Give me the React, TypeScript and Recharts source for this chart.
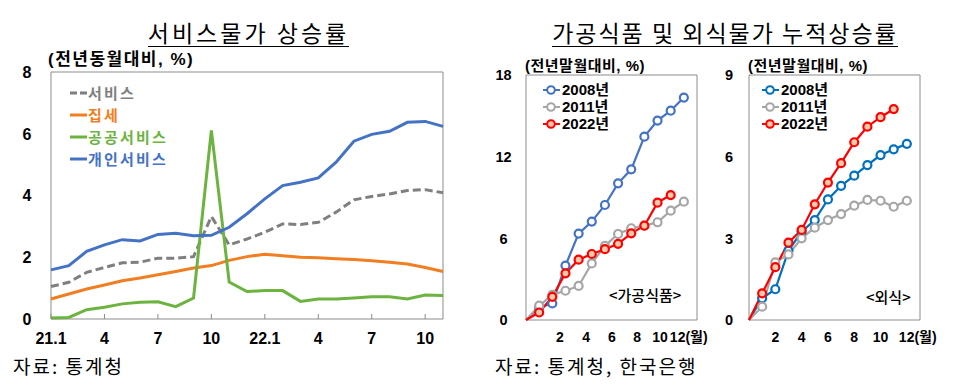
import React from "react";
import { LineChart, Line, XAxis, YAxis, ReferenceArea, Legend } from "recharts";

const NUM_FONT = '"Liberation Sans", Arial, "Noto Sans CJK KR", sans-serif';
const KR_FONT = '"Noto Sans CJK KR", "Noto Sans", sans-serif';

// 서비스물가 상승률 (전년동월대비, %), 21.1 ~ 22.11
const months = [
  "21.1", "2", "3", "4", "5", "6", "7", "8", "9", "10", "11", "12",
  "22.1", "2", "3", "4", "5", "6", "7", "8", "9", "10", "11",
];
const service = [1.05, 1.19, 1.51, 1.67, 1.82, 1.84, 1.97, 1.97, 2.02, 3.32, 2.4, 2.59, 2.81, 3.08, 3.06, 3.13, 3.46, 3.86, 3.97, 4.05, 4.16, 4.19, 4.09];
const rent = [0.65, 0.81, 0.97, 1.1, 1.24, 1.33, 1.43, 1.54, 1.65, 1.73, 1.9, 2.02, 2.1, 2.05, 2.0, 1.98, 1.95, 1.93, 1.89, 1.84, 1.78, 1.67, 1.54];
const publicSvc = [0.03, 0.05, 0.3, 0.38, 0.49, 0.54, 0.56, 0.4, 0.68, 6.11, 1.2, 0.89, 0.92, 0.92, 0.57, 0.65, 0.65, 0.68, 0.72, 0.72, 0.65, 0.78, 0.76];
const personal = [1.59, 1.73, 2.19, 2.4, 2.57, 2.53, 2.74, 2.78, 2.7, 2.71, 2.97, 3.41, 3.89, 4.32, 4.43, 4.57, 5.08, 5.76, 5.98, 6.08, 6.37, 6.4, 6.24];
const svcTicks = [0, 3, 6, 9, 12, 15, 18, 21];

// 누적상승률 (전년말월대비, %), 0 ~ 12월
const cumMonths = [0, 1, 2, 3, 4, 5, 6, 7, 8, 9, 10, 11, 12];
const proc2008 = [0, 0.9, 1.22, 4.0, 6.35, 7.23, 8.45, 10.04, 11.07, 13.47, 14.65, 15.38, 16.34];
const proc2011 = [0, 1.05, 1.85, 2.15, 2.5, 4.16, 5.45, 6.32, 6.74, 6.93, 7.18, 8.03, 8.69];
const proc2022 = [0, 0.55, 1.7, 3.43, 4.43, 4.85, 5.2, 5.6, 6.37, 6.93, 8.62, 9.18, null];
const food2008 = [0, 0.8, 1.13, 2.55, 3.24, 3.67, 4.43, 4.93, 5.3, 5.69, 6.06, 6.27, 6.47];
const food2011 = [0, 0.49, 2.12, 2.41, 3.0, 3.39, 3.67, 3.89, 4.2, 4.41, 4.38, 4.16, 4.38];
const food2022 = [0, 0.98, 1.94, 2.84, 3.31, 4.25, 5.05, 5.76, 6.53, 7.1, 7.45, 7.75, null];
const monthTicks = [2, 4, 6, 8, 10, 12];

const svcData = months.map((m, i) => ({
  i,
  m,
  service: service[i],
  rent: rent[i],
  pub: publicSvc[i],
  personal: personal[i],
}));
const procData = cumMonths.map((k, i) => ({ k, y2008: proc2008[i], y2011: proc2011[i], y2022: proc2022[i] }));
const foodData = cumMonths.map((k, i) => ({ k, y2008: food2008[i], y2011: food2011[i], y2022: food2022[i] }));

const svcSeries = [
  { key: "service", name: "서비스", color: "#7F7F7F", dash: "8 4" },
  { key: "rent", name: "집세", color: "#F27E22" },
  { key: "pub", name: "공공서비스", color: "#6CB33F" },
  { key: "personal", name: "개인서비스", color: "#4472C4" },
];

type Yr = { key: string; name: string; color: string; fill: string };
const procSeries: Yr[] = [
  { key: "y2008", name: "2008년", color: "#4472C4", fill: "#fff" },
  { key: "y2011", name: "2011년", color: "#A6A6A6", fill: "#fff" },
  { key: "y2022", name: "2022년", color: "#FF0000", fill: "#F8CBAD" },
];
const foodSeries: Yr[] = [
  { key: "y2008", name: "2008년", color: "#0070C0", fill: "#fff" },
  { key: "y2011", name: "2011년", color: "#A6A6A6", fill: "#fff" },
  { key: "y2022", name: "2022년", color: "#FF0000", fill: "#F8CBAD" },
];

const BOX = "#8c8c8c";

function YTick(props: any) {
  const { x, y, payload, off, size } = props;
  return (
    <text x={x - off} y={y} dy={size * 0.36} textAnchor="middle" fontSize={size} fontWeight="bold" fontFamily={NUM_FONT} fill="#000">
      {payload.value}
    </text>
  );
}

function SvcXTick(props: any) {
  const { x, y, payload } = props;
  return (
    <text x={x} y={y} dy={24.5} textAnchor="middle" fontSize={16} fontWeight="bold" fontFamily={NUM_FONT} fill="#000">
      {months[payload.value]}
    </text>
  );
}

function MonthTick(props: any) {
  const { x, y, payload, shift } = props;
  const v = payload.value;
  const s = shift ? shift[v] ?? 0 : 0;
  if (v === 12) {
    return (
      <text x={x + s - 8} y={y} dy={21.5} textAnchor="start" fontSize={14} fontWeight="bold" fontFamily={NUM_FONT} fill="#000">
        12(월)
      </text>
    );
  }
  return (
    <text x={x + s} y={y} dy={21.5} textAnchor="middle" fontSize={14} fontWeight="bold" fontFamily={NUM_FONT} fill="#000">
      {v}
    </text>
  );
}

const makeDot = (s: Yr) => (p: any) => {
  const { cx, cy, index } = p;
  if (index === 0 || cx == null || cy == null || p.value == null) return <g key={`d-${s.key}-${index}`} />;
  return <circle key={`d-${s.key}-${index}`} cx={cx} cy={cy} r={4} fill={s.fill} stroke={s.color} strokeWidth={2.2} />;
};

function SvcLegend() {
  return (
    <div style={{ fontFamily: KR_FONT, fontWeight: 700, fontSize: 15, letterSpacing: 2.2 }}>
      {svcSeries.map((s) => (
        <div key={s.key} style={{ display: "flex", alignItems: "center", height: 22, color: s.color }}>
          <svg width={19} height={6}>
            <line x1={1} y1={3} x2={18} y2={3} stroke={s.color} strokeWidth={3} strokeDasharray={s.dash ? "7 3" : undefined} />
          </svg>
          <span style={{ lineHeight: "22px" }}>{s.name}</span>
        </div>
      ))}
    </div>
  );
}

function CumLegend({ series }: { series: Yr[] }) {
  return (
    <div style={{ fontFamily: NUM_FONT, fontWeight: 700, fontSize: 15, color: "#000" }}>
      {series.map((s) => (
        <div key={s.key} style={{ display: "flex", alignItems: "center", height: 16.7 }}>
          <svg width={20} height={12}>
            <line x1={1} y1={6} x2={18} y2={6} stroke={s.color} strokeWidth={2} />
            <circle cx={9} cy={6} r={3.8} fill={s.fill} stroke={s.color} strokeWidth={2} />
          </svg>
          <span style={{ lineHeight: "16px" }}>{s.name}</span>
        </div>
      ))}
    </div>
  );
}

function CumChart(props: { data: any[]; series: Yr[]; yMax: number; yTicks: number[]; yAxisW: number; right: number; yOff: number; shift?: Record<number, number>; legendLeft: number }) {
  const { data, series, yMax, yTicks, yAxisW, right, yOff, shift, legendLeft } = props;
  return (
    <LineChart width={240} height={385} data={data} margin={{ top: 75, right, bottom: 35, left: 0 }}>
      <XAxis dataKey="k" type="number" domain={[0, 13]} ticks={monthTicks} height={30} axisLine={false} tickLine={false} tickSize={0} tickMargin={0} tick={(p: any) => <MonthTick {...p} shift={shift} />} interval={0} />
      <YAxis type="number" domain={[0, yMax]} ticks={yTicks} width={yAxisW} axisLine={false} tickLine={false} tickSize={0} tickMargin={0} tick={(p: any) => <YTick {...p} off={yOff} size={14.5} />} interval={0} />
      <ReferenceArea x1={0} x2={13} y1={0} y2={yMax} fill="none" stroke={BOX} strokeWidth={1} />
      <Legend layout="vertical" align="center" verticalAlign="middle" content={() => <CumLegend series={series} />} wrapperStyle={{ left: legendLeft, top: 82, width: "auto" }} />
      {series.map((s) => (
        <Line key={s.key} dataKey={s.key} name={s.name} stroke={s.color} strokeWidth={2.2} dot={makeDot(s)} activeDot={false} isAnimationActive={false} type="linear" />
      ))}
    </LineChart>
  );
}

export default function App() {
  const abs = (o: React.CSSProperties): React.CSSProperties => ({ position: "absolute", whiteSpace: "nowrap", ...o });
  return (
    <div style={{ position: "absolute", left: 0, top: 0, width: 960, height: 385, background: "#fff", overflow: "hidden" }}>
      {/* titles */}
      <div style={abs({ left: 0, top: 15, width: 497, textAlign: "center", fontFamily: KR_FONT, fontSize: 23 })}>
        <span style={{ display: "inline-block", lineHeight: "23px", paddingBottom: 2, borderBottom: "1.5px solid #000", letterSpacing: 3 }}>서비스물가 상승률</span>
      </div>
      <div style={abs({ left: 480, top: 15, width: 490, textAlign: "center", fontFamily: KR_FONT, fontSize: 23 })}>
        <span style={{ display: "inline-block", lineHeight: "23px", paddingBottom: 2, borderBottom: "1.5px solid #000", letterSpacing: 2 }}>가공식품 및 외식물가 누적상승률</span>
      </div>

      {/* units */}
      <div style={abs({ left: 48, top: 51, fontFamily: NUM_FONT, fontWeight: 700, fontSize: 17, lineHeight: "17px", letterSpacing: 1.5 })}>(전년동월대비, %)</div>
      <div style={abs({ left: 525, top: 58, fontFamily: NUM_FONT, fontWeight: 700, fontSize: 15, lineHeight: "15px", letterSpacing: 0.5 })}>(전년말월대비, %)</div>
      <div style={abs({ left: 748, top: 58, fontFamily: NUM_FONT, fontWeight: 700, fontSize: 15, lineHeight: "15px", letterSpacing: 0.5 })}>(전년말월대비, %)</div>

      {/* left chart */}
      <div style={abs({ left: 0, top: 0 })}>
        <LineChart width={480} height={385} data={svcData} margin={{ top: 72, right: 37, bottom: 36, left: 0 }}>
          <XAxis dataKey="i" type="number" domain={[0, 22]} ticks={svcTicks} height={30} axisLine={false} tickSize={-5} tickMargin={5} tickLine={{ stroke: BOX }} tick={<SvcXTick />} interval={0} />
          <YAxis type="number" domain={[0, 8]} ticks={[0, 2, 4, 6, 8]} width={51} axisLine={false} tickLine={false} tickSize={0} tickMargin={0} tick={(p: any) => <YTick {...p} off={24} size={16} />} interval={0} />
          <ReferenceArea x1={0} x2={22} y1={0} y2={8} fill="none" stroke={BOX} strokeWidth={1} />
          <Legend layout="vertical" align="center" verticalAlign="middle" content={() => <SvcLegend />} wrapperStyle={{ left: 69, top: 81.5, width: "auto" }} />
          {svcSeries.map((s) => (
            <Line key={s.key} dataKey={s.key} name={s.name} stroke={s.color} strokeWidth={3} strokeDasharray={s.dash} dot={false} activeDot={false} isAnimationActive={false} type="linear" />
          ))}
        </LineChart>
      </div>

      {/* middle chart */}
      <div style={abs({ left: 480, top: 0 })}>
        <CumChart data={procData} series={procSeries} yMax={18} yTicks={[0, 6, 12, 18]} yAxisW={46} right={23} yOff={22.5} shift={{ 2: 7.5, 4: 7.5, 6: 7, 8: 6, 10: 2.5, 12: -6 }} legendLeft={62} />
      </div>

      {/* right chart */}
      <div style={abs({ left: 720, top: 0 })}>
        <CumChart data={foodData} series={foodSeries} yMax={9} yTicks={[0, 3, 6, 9]} yAxisW={29} right={40} yOff={20} legendLeft={41} />
      </div>

      <div style={abs({ left: 609, top: 286, fontFamily: KR_FONT, fontWeight: 500, fontSize: 15, lineHeight: "18px" })}>&lt;가공식품&gt;</div>
      <div style={abs({ left: 866, top: 288, fontFamily: KR_FONT, fontWeight: 500, fontSize: 15, lineHeight: "18px" })}>&lt;외식&gt;</div>

      {/* sources */}
      <div style={abs({ left: 13, top: 356, fontFamily: KR_FONT, fontSize: 19, lineHeight: "19px", letterSpacing: 2 })}>자료: 통계청</div>
      <div style={abs({ left: 495, top: 356, fontFamily: KR_FONT, fontSize: 19, lineHeight: "19px", letterSpacing: 2 })}>자료: 통계청, 한국은행</div>
    </div>
  );
}
